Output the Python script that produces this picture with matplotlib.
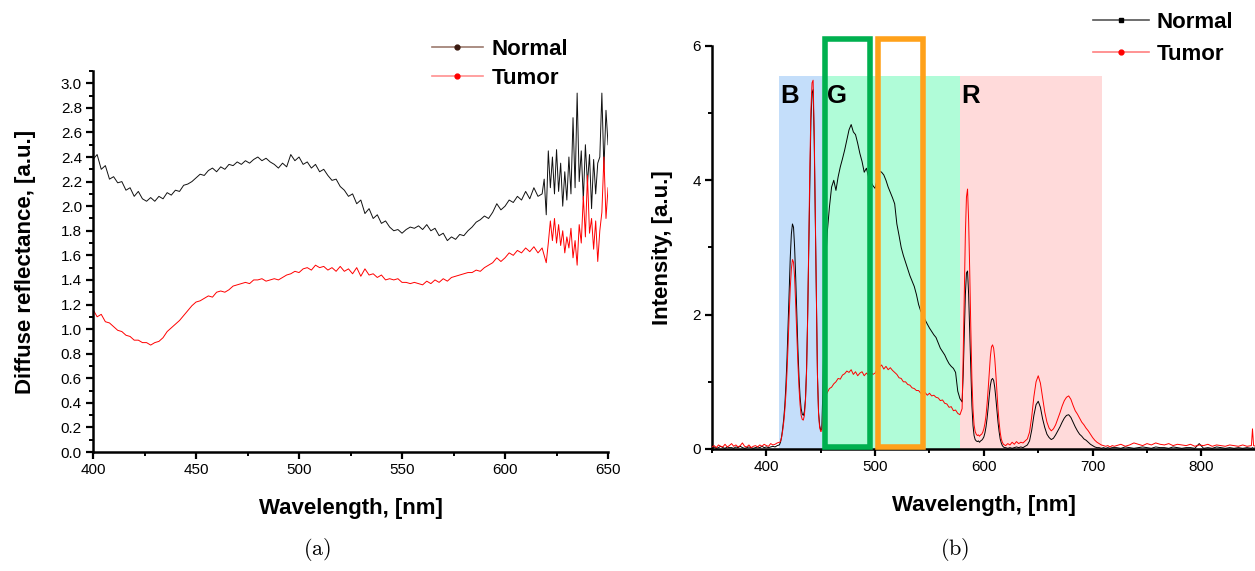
import matplotlib
matplotlib.use("Agg")
import matplotlib.pyplot as plt
from matplotlib.patches import Rectangle
from matplotlib.lines import Line2D
from matplotlib.ticker import MultipleLocator

plt.rcParams['font.family'] = ['Liberation Sans', 'DejaVu Sans']
plt.rcParams['mathtext.fontset'] = 'cm'

# ---------------- (a) diffuse reflectance ----------------
wl_a = [400, 402, 404, 406, 408, 410, 412, 414, 416, 418, 420, 422, 424, 426, 428, 430,
        432, 434, 436, 438, 440, 442, 444, 446, 448, 450, 452, 454, 456, 458, 460, 462,
        464, 466, 468, 470, 472, 474, 476, 478, 480, 482, 484, 486, 488, 490, 492, 494,
        496, 498, 500, 502, 504, 506, 508, 510, 512, 514, 516, 518, 520, 522, 524, 526,
        528, 530, 532, 534, 536, 538, 540, 542, 544, 546, 548, 550, 552, 554, 556, 558,
        560, 562, 564, 566, 568, 570, 572, 574, 576, 578, 580, 582, 584, 586, 588, 590,
        592, 594, 596, 598, 600, 602, 604, 606, 608, 610, 612, 614, 616, 618,
        619, 620, 621, 622, 623, 624, 625, 626, 627, 628, 629, 630, 631, 632, 633, 634,
        635, 636, 637, 638, 639, 640, 641, 642, 643, 644, 645, 646, 647, 648, 649, 650]

normal_a = [2.38, 2.42, 2.30, 2.33, 2.22, 2.24, 2.19, 2.20, 2.13, 2.15, 2.08, 2.12, 2.06, 2.04, 2.07, 2.04,
            2.08, 2.06, 2.11, 2.09, 2.13, 2.12, 2.17, 2.18, 2.20, 2.23, 2.26, 2.25, 2.29, 2.31, 2.28, 2.32,
            2.30, 2.34, 2.33, 2.36, 2.34, 2.37, 2.35, 2.38, 2.40, 2.37, 2.39, 2.36, 2.34, 2.31, 2.35, 2.32,
            2.42, 2.37, 2.40, 2.34, 2.36, 2.31, 2.34, 2.28, 2.30, 2.25, 2.21, 2.22, 2.16, 2.13, 2.08, 2.10,
            2.02, 2.05, 1.94, 1.98, 1.90, 1.93, 1.86, 1.88, 1.83, 1.80, 1.81, 1.78, 1.81, 1.83, 1.82, 1.84,
            1.81, 1.85, 1.80, 1.82, 1.76, 1.78, 1.72, 1.75, 1.73, 1.77, 1.76, 1.80, 1.83, 1.87, 1.89, 1.92,
            1.90, 1.95, 2.02, 1.97, 2.00, 2.05, 2.03, 2.08, 2.05, 2.12, 2.06, 2.15, 2.08, 2.10,
            2.22, 1.93, 2.45, 2.15, 2.40, 2.10, 2.46, 2.12, 2.35, 2.00, 2.28, 2.05, 2.40, 2.10, 2.72, 2.15,
            2.92, 2.20, 2.45, 2.05, 2.50, 2.18, 2.42, 1.98, 2.38, 2.10, 2.35, 2.40, 2.92, 2.30, 2.78, 2.50]

tumor_a = [1.16, 1.10, 1.12, 1.06, 1.05, 1.02, 0.99, 0.98, 0.95, 0.94, 0.91, 0.91, 0.89, 0.89, 0.87, 0.89,
           0.90, 0.93, 0.98, 1.01, 1.04, 1.07, 1.11, 1.15, 1.19, 1.22, 1.23, 1.25, 1.27, 1.26, 1.30, 1.31,
           1.30, 1.32, 1.35, 1.36, 1.37, 1.38, 1.37, 1.40, 1.40, 1.41, 1.39, 1.40, 1.41, 1.40, 1.42, 1.44,
           1.45, 1.47, 1.46, 1.49, 1.50, 1.48, 1.52, 1.50, 1.51, 1.48, 1.50, 1.47, 1.51, 1.47, 1.49, 1.45,
           1.50, 1.43, 1.49, 1.44, 1.45, 1.42, 1.44, 1.40, 1.41, 1.40, 1.41, 1.38, 1.38, 1.37, 1.38, 1.37,
           1.36, 1.39, 1.37, 1.40, 1.38, 1.41, 1.39, 1.42, 1.43, 1.44, 1.45, 1.46, 1.46, 1.48, 1.47, 1.50,
           1.52, 1.54, 1.58, 1.55, 1.58, 1.62, 1.60, 1.64, 1.62, 1.66, 1.63, 1.67, 1.62, 1.66,
           1.60, 1.54, 1.70, 1.88, 1.72, 1.90, 1.70, 1.85, 1.68, 1.80, 1.62, 1.75, 1.66, 1.82, 1.58, 1.72,
           1.52, 1.85, 1.70, 2.08, 1.75, 2.25, 1.78, 1.90, 1.65, 1.88, 1.55, 1.80, 1.95, 2.40, 1.90, 2.15]

# ---------------- (b) intensity spectrum ----------------
wl_b1 = [350, 352, 354, 356, 358, 360, 362, 364, 366, 368, 370, 372, 374, 376, 378, 380,
         382, 384, 386, 388, 390, 392, 394, 396, 398, 400, 402, 404, 406, 408, 410, 412]
normal_b1 = [0.02, 0.03, 0.01, 0.02, 0.04, 0.02, 0.01, 0.03, 0.02, 0.02, 0.01, 0.03, 0.02, 0.04, 0.02, 0.01,
             0.02, 0.03, 0.02, 0.01, 0.02, 0.03, 0.02, 0.04, 0.02, 0.03, 0.02, 0.03, 0.04, 0.03, 0.05, 0.06]
tumor_b1 = [0.03, 0.05, 0.02, 0.06, 0.04, 0.03, 0.07, 0.03, 0.05, 0.08, 0.04, 0.06, 0.03, 0.05, 0.09, 0.04,
            0.03, 0.06, 0.02, 0.04, 0.05, 0.03, 0.06, 0.04, 0.07, 0.05, 0.04, 0.08, 0.06, 0.07, 0.09, 0.10]

wl_b2 = [413, 414, 415, 416, 417, 418, 419, 420, 421, 422, 423, 424, 425, 426, 427, 428,
         429, 430, 431, 432, 433, 434, 435, 436, 437, 438, 439, 440, 441, 442, 443, 444,
         445, 446, 447, 448, 449, 450, 451]
normal_b2 = [0.10, 0.18, 0.30, 0.45, 0.65, 0.95, 1.35, 1.85, 2.40, 2.85, 3.20, 3.35, 3.30, 3.00, 2.55, 2.00,
             1.50, 1.08, 0.78, 0.60, 0.52, 0.50, 0.56, 0.75, 1.20, 2.00, 3.00, 4.10, 4.90, 5.30, 5.35, 4.60,
             3.40, 2.10, 1.10, 0.55, 0.35, 0.28, 0.30]
tumor_b2 = [0.11, 0.17, 0.27, 0.40, 0.58, 0.82, 1.15, 1.55, 2.00, 2.40, 2.68, 2.82, 2.78, 2.55, 2.15, 1.70,
            1.28, 0.92, 0.66, 0.50, 0.44, 0.43, 0.50, 0.72, 1.15, 1.95, 3.05, 4.20, 5.05, 5.45, 5.49, 4.75,
            3.50, 2.15, 1.10, 0.52, 0.32, 0.26, 0.27]

wl_b3 = [452, 454, 456, 458, 460, 462, 464, 466, 468, 470, 472, 474, 476, 478, 480, 482,
         484, 486, 488, 490, 492, 494, 496, 498, 500, 502, 504, 506, 508, 510, 512, 514,
         516, 518, 520, 522, 524, 526, 528, 530, 532, 534, 536, 538, 540, 542, 544, 546,
         548, 550, 552, 554, 556, 558, 560, 562, 564, 566, 568, 570, 572, 574, 576, 578, 580]
normal_b3 = [0.90, 2.60, 3.22, 3.60, 3.90, 4.00, 3.85, 4.05, 4.20, 4.32, 4.45, 4.60, 4.75, 4.83, 4.72, 4.68,
             4.55, 4.40, 4.28, 4.12, 4.18, 4.05, 3.98, 3.92, 3.88, 4.02, 4.14, 4.12, 4.08, 4.00, 3.90, 3.82,
             3.74, 3.65, 3.35, 3.18, 3.00, 2.88, 2.78, 2.68, 2.58, 2.50, 2.42, 2.30, 2.15, 2.05, 2.00, 1.92,
             1.86, 1.80, 1.75, 1.70, 1.66, 1.58, 1.50, 1.45, 1.40, 1.33, 1.27, 1.23, 1.20, 1.14, 0.86, 0.75, 0.70]
tumor_b3 = [0.45, 0.78, 0.84, 0.90, 0.92, 0.97, 1.00, 1.05, 1.04, 1.10, 1.12, 1.16, 1.14, 1.18, 1.11, 1.15,
            1.09, 1.13, 1.15, 1.09, 1.13, 1.10, 1.15, 1.11, 1.13, 1.19, 1.22, 1.25, 1.19, 1.23, 1.18, 1.21,
            1.17, 1.14, 1.11, 1.06, 1.05, 1.00, 1.00, 0.96, 0.95, 0.91, 0.90, 0.87, 0.87, 0.83, 0.82, 0.84,
            0.80, 0.83, 0.79, 0.80, 0.77, 0.76, 0.72, 0.73, 0.68, 0.67, 0.62, 0.63, 0.57, 0.58, 0.53, 0.51, 0.60]

wl_b4 = [581, 582, 583, 584, 585, 586, 587, 588, 589, 590, 591, 592, 593, 594, 595, 596,
         597, 598, 599, 600, 601, 602, 603, 604, 605, 606, 607, 608, 609, 610, 611, 612,
         613, 614, 615, 616, 617, 618, 619]
normal_b4 = [1.10, 1.70, 2.30, 2.62, 2.65, 2.30, 1.75, 1.15, 0.65, 0.35, 0.20, 0.14, 0.12, 0.11, 0.12, 0.10,
             0.12, 0.13, 0.15, 0.18, 0.24, 0.33, 0.46, 0.62, 0.80, 0.95, 1.03, 1.05, 1.02, 0.92, 0.76, 0.58,
             0.40, 0.26, 0.15, 0.09, 0.05, 0.03, 0.02]
tumor_b4 = [1.40, 2.30, 3.20, 3.75, 3.87, 3.40, 2.65, 1.80, 1.05, 0.60, 0.36, 0.26, 0.22, 0.20, 0.21, 0.19,
            0.21, 0.22, 0.25, 0.30, 0.38, 0.50, 0.68, 0.90, 1.15, 1.38, 1.52, 1.55, 1.50, 1.35, 1.12, 0.86,
            0.60, 0.40, 0.25, 0.15, 0.10, 0.07, 0.06]

wl_b5 = [620, 622, 624, 626, 628, 630, 632, 634, 636, 638, 640, 642, 644, 646, 648, 650,
         652, 654, 656, 658, 660, 662, 664, 666, 668, 670, 672, 674, 676, 678, 680, 682,
         684, 686, 688, 690, 692, 694, 696, 698, 700, 702, 704, 706, 708, 710, 712, 714,
         716, 718, 720]
normal_b5 = [0.02, 0.01, 0.02, 0.01, 0.02, 0.03, 0.02, 0.03, 0.02, 0.04, 0.06, 0.12, 0.28, 0.50, 0.66, 0.71,
             0.62, 0.45, 0.32, 0.22, 0.17, 0.14, 0.16, 0.21, 0.27, 0.33, 0.40, 0.46, 0.50, 0.51, 0.47, 0.40,
             0.33, 0.27, 0.22, 0.19, 0.15, 0.13, 0.10, 0.07, 0.05, 0.03, 0.02, 0.02, 0.01, 0.02, 0.01, 0.02,
             0.01, 0.02, 0.02]
tumor_b5 = [0.05, 0.08, 0.06, 0.10, 0.07, 0.11, 0.08, 0.10, 0.09, 0.12, 0.15, 0.25, 0.48, 0.78, 1.00, 1.09,
            0.98, 0.76, 0.55, 0.40, 0.31, 0.27, 0.30, 0.36, 0.45, 0.54, 0.64, 0.72, 0.77, 0.79, 0.74, 0.65,
            0.57, 0.52, 0.46, 0.40, 0.36, 0.31, 0.27, 0.22, 0.17, 0.13, 0.10, 0.08, 0.06, 0.05, 0.04, 0.05,
            0.03, 0.05, 0.04]

wl_b6 = [722, 726, 730, 734, 738, 742, 746, 750, 754, 758, 762, 766, 770, 774, 778, 782,
         786, 790, 794, 798, 802, 806, 810, 814, 818, 822, 826, 830, 834, 838, 842, 846,
         847, 848, 850]
normal_b6 = [0.02, 0.01, 0.03, 0.02, 0.01, 0.02, 0.03, 0.02, 0.01, 0.03, 0.02, 0.02, 0.01, 0.03, 0.02, 0.01,
             0.02, 0.02, 0.01, 0.08, 0.01, 0.02, 0.01, 0.03, 0.02, 0.01, 0.02, 0.01, 0.02, 0.01, 0.02, 0.01,
             0.02, 0.01, 0.02]
tumor_b6 = [0.05, 0.07, 0.04, 0.06, 0.09, 0.07, 0.05, 0.08, 0.06, 0.09, 0.07, 0.06, 0.08, 0.05, 0.07, 0.06,
            0.05, 0.07, 0.04, 0.06, 0.05, 0.07, 0.04, 0.06, 0.05, 0.04, 0.06, 0.05, 0.04, 0.06, 0.04, 0.05,
            0.30, 0.05, 0.04]

wl_b = wl_b1 + wl_b2 + wl_b3 + wl_b4 + wl_b5 + wl_b6
normal_b = normal_b1 + normal_b2 + normal_b3 + normal_b4 + normal_b5 + normal_b6
tumor_b = tumor_b1 + tumor_b2 + tumor_b3 + tumor_b4 + tumor_b5 + tumor_b6

# colour bands (start, end, height) and filter boxes (start, end)
bands = [(412, 451, 5.55, '#c4defa'), (451, 578.5, 5.55, '#b0fcd8'), (578.5, 709, 5.55, '#ffdada')]
band_labels = [('B', 413), ('G', 455.5), ('R', 579.5)]
boxes = [(453.5, 495, '#00b04f'), (502.5, 544, '#ffa11a')]

fig = plt.figure(figsize=(12.55, 5.71), dpi=100)


def style_axes(ax):
    for s in ['top', 'right']:
        ax.spines[s].set_visible(False)
    for s in ['left', 'bottom']:
        ax.spines[s].set_linewidth(1.8)
    ax.tick_params(which='major', direction='out', length=5, width=1.6, labelsize=11, pad=3)
    ax.tick_params(which='minor', direction='out', length=3, width=1.4)


# panel (a)
ax1 = fig.add_axes([0.0741, 0.2084, 0.4104, 0.6673])
ax1.plot(wl_a, normal_a, color='#111111', lw=0.7)
ax1.plot(wl_a, tumor_a, color='#ff0000', lw=0.7)
ax1.set_xlim(400, 650)
ax1.set_ylim(0, 3.1)
ax1.xaxis.set_major_locator(MultipleLocator(50))
ax1.xaxis.set_minor_locator(MultipleLocator(25))
ax1.yaxis.set_minor_locator(MultipleLocator(0.1))
ax1.set_yticks([i / 10 for i in range(0, 31, 2)])
ax1.set_yticklabels(['%.1f' % (i / 10) for i in range(0, 31, 2)])
style_axes(ax1)
ax1.set_xlabel('Wavelength, [nm]', fontsize=16, fontweight='bold', labelpad=15)
ax1.set_ylabel('Diffuse reflectance, [a.u.]', fontsize=16, fontweight='bold', labelpad=18)

h1 = [Line2D([], [], color='#9c7a6e', lw=1.2, marker='o', ms=3.5, mfc='#3a1a10', mec='#3a1a10'),
      Line2D([], [], color='#ff9090', lw=1.2, marker='o', ms=3.5, mfc='#ff0000', mec='#ff0000')]
fig.legend(h1, ['Normal', 'Tumor'], loc='upper left', bbox_to_anchor=(0.344, 0.932),
           frameon=False, borderpad=0, borderaxespad=0, handlelength=2.3, handletextpad=0.4,
           labelspacing=0.38, numpoints=1, prop={'weight': 'bold', 'size': 16})

# panel (b)
ax2 = fig.add_axes([0.5673, 0.2137, 0.4333, 0.7058])
for x0, x1, h, c in bands:
    ax2.add_patch(Rectangle((x0, 0), x1 - x0, h, facecolor=c, edgecolor='none', zorder=0))
ax2.plot(wl_b, normal_b, color='#000000', lw=0.7, zorder=2)
ax2.plot(wl_b, tumor_b, color='#ff0000', lw=0.7, zorder=3)
for x0, x1, c in boxes:
    ax2.add_patch(Rectangle((x0, 0.03), x1 - x0, 6.07, fill=False, edgecolor=c, lw=4,
                            zorder=4, clip_on=False))
for t, x in band_labels:
    ax2.text(x, 5.26, t, fontsize=18.5, fontweight='bold', ha='left', va='center', zorder=5)
ax2.set_xlim(350, 850)
ax2.set_ylim(0, 6)
ax2.xaxis.set_major_locator(MultipleLocator(100))
ax2.xaxis.set_minor_locator(MultipleLocator(50))
ax2.yaxis.set_major_locator(MultipleLocator(2))
ax2.yaxis.set_minor_locator(MultipleLocator(1))
style_axes(ax2)
ax2.set_xlabel('Wavelength, [nm]', fontsize=16, fontweight='bold', labelpad=15)
ax2.set_ylabel('Intensity, [a.u.]', fontsize=16, fontweight='bold', labelpad=14)

h2 = [Line2D([], [], color='#555555', lw=1.2, marker='s', ms=3, mfc='#000000', mec='#000000'),
      Line2D([], [], color='#ff8080', lw=1.2, marker='o', ms=3.5, mfc='#ff0000', mec='#ff0000')]
fig.legend(h2, ['Normal', 'Tumor'], loc='upper left', bbox_to_anchor=(0.871, 0.979),
           frameon=False, borderpad=0, borderaxespad=0, handlelength=2.5, handletextpad=0.35,
           labelspacing=0.5, numpoints=1, prop={'weight': 'bold', 'size': 16})

fig.text(0.2526, 0.037, r'$\mathrm{(a)}$', fontsize=16, ha='center', va='center')
fig.text(0.761, 0.037, r'$\mathrm{(b)}$', fontsize=16, ha='center', va='center')

fig.savefig('out.png', dpi=100)
